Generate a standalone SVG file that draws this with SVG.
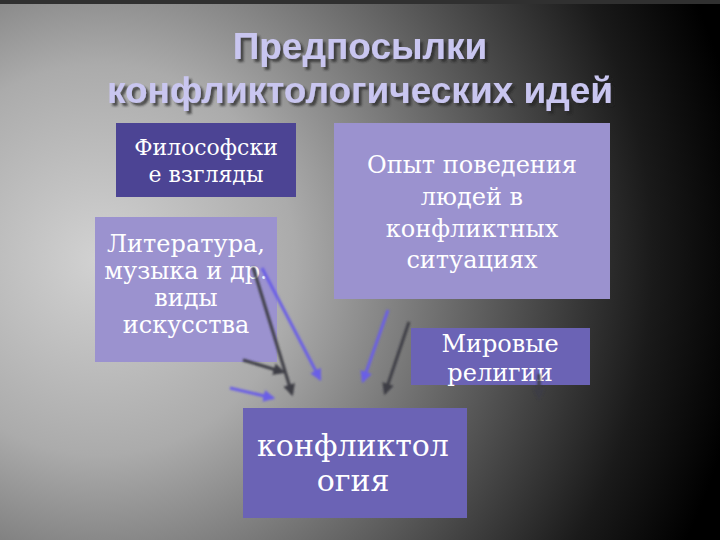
<svg xmlns="http://www.w3.org/2000/svg" width="720" height="540" viewBox="0 0 720 540">
<defs>
<radialGradient id="bg" cx="100" cy="260" r="650" gradientUnits="userSpaceOnUse">
<stop offset="0" stop-color="#d2d2d2"/>
<stop offset="0.3" stop-color="#ababab"/>
<stop offset="0.6" stop-color="#5c5c5c"/>
<stop offset="0.85" stop-color="#1a1a1a"/>
<stop offset="1" stop-color="#000"/>
</radialGradient>
<filter id="soft" x="-20%" y="-20%" width="140%" height="140%"><feGaussianBlur stdDeviation="0.8"/></filter>
<filter id="ts" x="-10%" y="-30%" width="120%" height="160%"><feDropShadow dx="3" dy="3" stdDeviation="1" flood-color="#202020" flood-opacity="0.7"/></filter>
<marker id="ad" viewBox="0 0 10 10" refX="8" refY="5" markerWidth="4" markerHeight="4" orient="auto"><path d="M0,0 L10,5 L0,10 z" fill="#3c3c44"/></marker>
<marker id="ab" viewBox="0 0 10 10" refX="8" refY="5" markerWidth="4" markerHeight="4" orient="auto"><path d="M0,0 L10,5 L0,10 z" fill="#6a5fe6"/></marker>
</defs>
<style>
.title{font-family:"Liberation Sans",Arial,sans-serif;font-weight:bold;font-size:37px;fill:#c9c6f0;text-anchor:middle}
.t{font-family:"DejaVu Serif","Liberation Serif",serif;fill:#ffffff;text-anchor:middle}
.dark{fill:#4c4494}
.light{fill:#9b92cf}
.mid{fill:#6b63b5}
.cd{stroke:#3c3c44;stroke-width:3;fill:none;marker-end:url(#ad)}
.cb{stroke:#6a5fe6;stroke-width:3;fill:none;marker-end:url(#ab)}
</style>
<rect width="720" height="540" fill="url(#bg)"/>
<rect x="0" y="0" width="720" height="4" fill="#303030"/>
<g id="title" filter="url(#ts)">
<text class="title" x="360" y="59">Предпосылки</text>
<text class="title" x="360" y="103">конфликтологических идей</text>
</g>
<g id="n-phil">
<rect class="dark" x="116" y="123" width="180" height="74"/>
<text class="t" x="206" y="155" font-size="22">Философски</text>
<text class="t" x="206" y="182" font-size="22">е взгляды</text>
</g>
<g id="n-lit">
<rect class="light" x="95" y="217" width="182" height="145"/>
<text class="t" x="186" y="252" font-size="24">Литература,</text>
<text class="t" x="186" y="279" font-size="24">музыка и др.</text>
<text class="t" x="186" y="306" font-size="24">виды</text>
<text class="t" x="186" y="333" font-size="24">искусства</text>
</g>
<g id="n-exp">
<rect class="light" x="334" y="123" width="276" height="176"/>
<text class="t" x="472" y="173" font-size="24">Опыт поведения</text>
<text class="t" x="472" y="205" font-size="24">людей в</text>
<text class="t" x="472" y="237" font-size="24">конфликтных</text>
<text class="t" x="472" y="268" font-size="24">ситуациях</text>
</g>
<g id="n-rel">
<rect class="mid" x="411" y="328" width="179" height="57"/>
<text class="t" x="500" y="352" font-size="24">Мировые</text>
<text class="t" x="500" y="381" font-size="24">религии</text>
</g>
<g id="n-conf">
<rect class="mid" x="243" y="408" width="224" height="110"/>
<text class="t" x="353" y="456" font-size="30">конфликтол</text>
<text class="t" x="353" y="491" font-size="30">огия</text>
</g>
<g id="connectors" filter="url(#soft)">
<line class="cd" x1="253" y1="267" x2="292" y2="394"/>
<line class="cb" x1="262" y1="268" x2="320" y2="379"/>
<line class="cd" x1="243" y1="360" x2="283" y2="372"/>
<line class="cb" x1="230" y1="388" x2="273" y2="398"/>
<line class="cb" x1="388" y1="310" x2="363" y2="381"/>
<line class="cd" x1="409" y1="322" x2="385" y2="393"/>
<line class="cd" x1="539" y1="374" x2="539" y2="398"/>
</g>
</svg>
